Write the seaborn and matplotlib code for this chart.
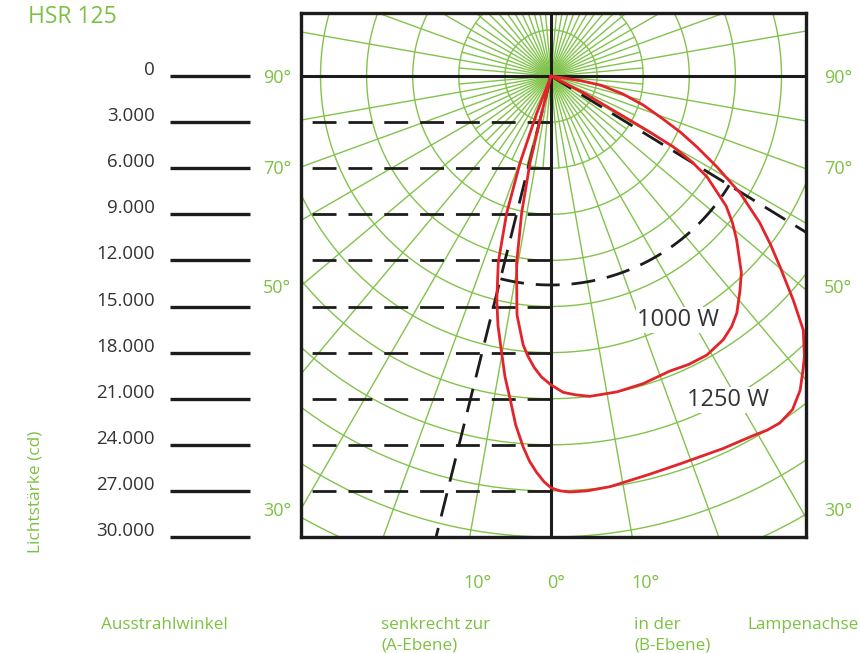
import numpy as np
import pandas as pd
import matplotlib
matplotlib.use("Agg")
import matplotlib.pyplot as plt
import seaborn as sns

# Lichtstaerkeverteilung HSR 125
# Winkel ab Senkrechte nach unten (Grad, + = B-Ebene), Lichtstaerke in cd
winkel_1000 = [-15, -14.1, -13.6, -12.1, -10.4, -8.7, -8.1, -7.0, -5.9, -4.7, -3.3, -1.8, 0,
               2.2, 4.3, 6.9, 11.8, 16.7, 21.9, 25.5, 29.2, 33.1, 35.8, 38.1, 41.4, 44.1,
               48.6, 51.0, 53.4, 57.1, 58.7, 59.9, 60.5, 61.0, 62.7, 64]
cd_1000 = [0, 2500, 5800, 9100, 12400, 14700, 15700, 16600, 17600, 18300, 19000, 19600, 20100,
           20600, 20800, 21000, 21000, 20900, 20700, 20800, 20800, 20500, 20100, 19600, 18600,
           17800, 16100, 15200, 14200, 12100, 10700, 9200, 7200, 5000, 2400, 0]

winkel_1250 = [-23, -21, -19.6, -17.9, -15.8, -13.6, -12, -10.1, -8.7, -7.2, -5.8, -4.3, -3.2,
               -2.1, -1, 0, 1.2, 2.6, 5, 8.2, 13.9, 18.4, 24.7, 29.4, 31.4, 33.4, 35.9, 38.4,
               40.6, 42.1, 44.8, 47.2, 50.2, 52.5, 54.9, 58.2, 61.3, 64, 66.5, 69, 72.5, 76,
               79.5, 81, 84]
cd_1250 = [0, 2600, 6000, 9400, 12600, 15000, 16600, 18300, 19800, 21200, 22800, 24200, 25100,
           25800, 26400, 26800, 27000, 27100, 27100, 27000, 26700, 26600, 26700, 26850, 27000,
           27050, 26800, 26100, 25200, 24600, 23300, 21500, 19400, 18000, 16600, 14500, 12300,
           10600, 9200, 7800, 6300, 4800, 3300, 2000, 0]

# Ausstrahlwinkel (A-Ebene links, B-Ebene rechts) und Radius des Bogens
beam_a = -14.0
beam_b = 58.5
beam_arc_cd = 13600

skala_cd = [0, 3000, 6000, 9000, 12000, 15000, 18000, 21000, 24000, 27000, 30000]
winkel_labels = [90, 70, 50, 30]

GREEN = "#82c34c"
TEXT_GREEN = "#7cc142"
RED = "#e4232b"
BLACK = "#1c1c1c"

sns.set_theme(style="white")
plt.rcParams["font.family"] = ["Open Sans", "DejaVu Sans"]

W, H = 860, 653
k = 461 / 30000  # px pro cd


def box(l, t, r, b):
    return [l / W, 1 - b / H, (r - l) / W, (b - t) / H]


def pol(winkel, cd):
    a = np.radians(np.asarray(winkel, dtype=float))
    r = np.asarray(cd, dtype=float)
    return r * np.sin(a), -r * np.cos(a)


def px(x, y):
    # Pixelposition im Bild -> Datenkoordinaten im Diagramm
    return (x - 551) / k, -(y - 76) / k


fig = plt.figure(figsize=(W / 100, H / 100), dpi=100)
ax = fig.add_axes(box(301, 13, 806, 537))

# Polarraster
t = np.linspace(0, 2 * np.pi, 721)
for r in range(3000, 36001, 3000):
    ax.plot(r * np.sin(t), -r * np.cos(t), color=GREEN, lw=1.0, zorder=1)
for a in range(0, 360, 5):
    rmax = 60000 if a % 10 == 0 else 6000
    x, y = pol([0, a], [0, rmax])
    ax.plot(x, y, color=GREEN, lw=1.0, zorder=1)

ax.axhline(0, color=BLACK, lw=2.2, zorder=3)
ax.axvline(0, color=BLACK, lw=2.2, zorder=3)

dash = (0, (8.6, 4.3))
xmin = -250 / k
for v in skala_cd[1:-1]:
    ax.plot([0, xmin], [-v, -v], color=BLACK, lw=2.0, linestyle=dash, zorder=3)

# Ausstrahlwinkel
for w in (beam_a, beam_b):
    x, y = pol([0, w], [0, 40000])
    ax.plot(x, y, color=BLACK, lw=2.0, linestyle=dash, zorder=3)
arc = np.linspace(beam_a, beam_b, 120)
x, y = pol(arc, np.full_like(arc, beam_arc_cd))
ax.plot(x, y, color=BLACK, lw=2.0, linestyle=dash, zorder=3)

# Lichtstaerkekurven
for winkel, cd in ((winkel_1000, cd_1000), (winkel_1250, cd_1250)):
    x, y = pol(winkel, cd)
    df = pd.DataFrame({"x": x, "y": y})
    sns.lineplot(data=df, x="x", y="y", sort=False, estimator=None,
                 color=RED, lw=2.0, ax=ax, zorder=6)

for label, (lx, ly) in (("1000 W", (678, 320)), ("1250 W", (728, 400))):
    dx, dy = px(lx, ly)
    ax.text(dx, dy, label, fontsize=17, color="#333333", ha="center", va="center",
            zorder=5, bbox=dict(fc="white", ec="none", pad=1.0))

ax.set_xlim(-250 / k, 255 / k)
ax.set_ylim(-30000, 63 / k)
ax.set_xlabel("")
ax.set_ylabel("")
ax.set_xticks([])
ax.set_yticks([])
for s in ax.spines.values():
    s.set_linewidth(2.4)
    s.set_color(BLACK)
    s.set_zorder(7)

# Winkelangaben seitlich
trans = ax.get_yaxis_transform()
for w in winkel_labels:
    yy = (250 / k) / np.tan(np.radians(w)) if w < 90 else 0.0
    for xa in (-0.047, 1.063):
        ax.text(xa, -yy - 150, f"{w}°", transform=trans, color=TEXT_GREEN, fontsize=13,
                ha="center", va="center")

# Lichtstaerkeskala links
ax_s = fig.add_axes(box(170, 13, 250, 537))
ax_s.set_ylim(ax.get_ylim())
ax_s.set_xlim(0, 1)
ax_s.axis("off")
ax_s.hlines([-v for v in skala_cd], 0, 1, color=BLACK, lw=2.4, clip_on=False)
for v in skala_cd:
    txt = f"{v:,}".replace(",", ".")
    ax_s.text(-0.19, -v + 390, txt, color="#333333", fontsize=13.5, ha="right", va="center")

fig.text(28 / W, 1 - 17 / H, "HSR 125", color=TEXT_GREEN, fontsize=16.5, va="center")
fig.text(35 / W, 1 - 492 / H, "Lichtstärke (cd)", color=TEXT_GREEN, fontsize=12.4,
         rotation=90, ha="center", va="center")

for s, xx in (("10°", 477), ("0°", 556), ("10°", 645)):
    fig.text(xx / W, 1 - 583 / H, s, color=TEXT_GREEN, fontsize=13, ha="center", va="center")

for s, xx, yy in (("Ausstrahlwinkel", 101, 625), ("senkrecht zur", 381, 625),
                  ("(A-Ebene)", 381, 645), ("in der", 634, 625), ("(B-Ebene)", 634, 645),
                  ("Lampenachse", 747, 625)):
    fig.text(xx / W, 1 - yy / H, s, color=TEXT_GREEN, fontsize=12.3, ha="left", va="center")

fig.savefig("out.png", dpi=100)
